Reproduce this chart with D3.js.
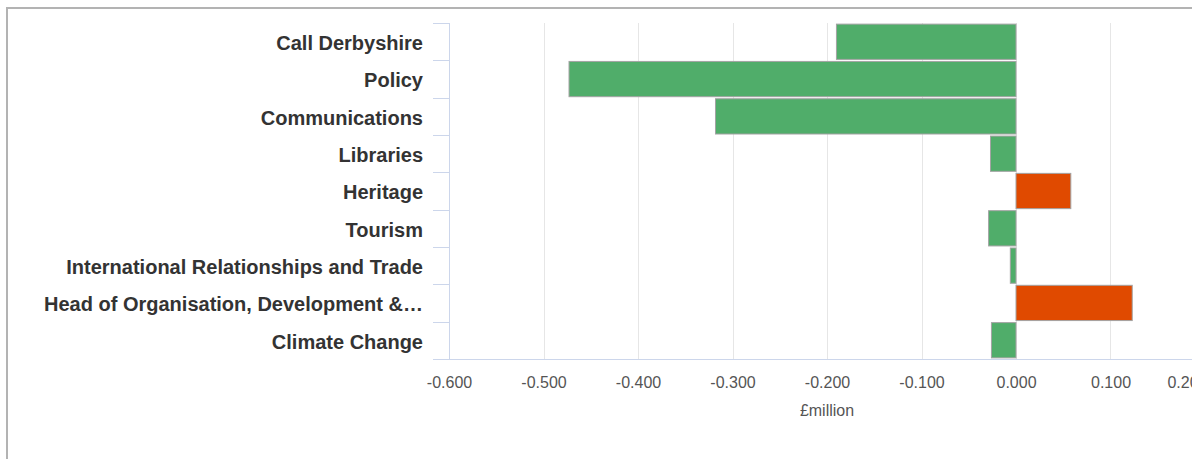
<!DOCTYPE html>
<html>
<head>
<meta charset="utf-8">
<script src="https://cdn.jsdelivr.net/npm/d3@7"></script>
<style>
  html, body { margin: 0; padding: 0; background: #fff; }
  svg { display: block; }
</style>
</head>
<body>
<svg id="chart" width="1200" height="459"></svg>
<script>
// Budget variance by service area (£million)
const categories = [
  "Call Derbyshire",
  "Policy",
  "Communications",
  "Libraries",
  "Heritage",
  "Tourism",
  "International Relationships and Trade",
  "Head of Organisation, Development &…",
  "Climate Change"
];
const variances = [-0.190, -0.473, -0.318, -0.027, 0.058, -0.029, -0.006, 0.123, -0.026];
const xTicks = [-0.6, -0.5, -0.4, -0.3, -0.2, -0.1, 0.0, 0.1, 0.2];
const xTitle = "£million";

const underspendColour = "#50ad6a";
const overspendColour = "#e04a00";
const font = "'Liberation Sans', Arial, sans-serif";

const svg = d3.select("#chart");

// Panel frame
svg.append("line").attr("x1", 6).attr("x2", 1192).attr("y1", 8).attr("y2", 8)
  .attr("stroke", "#b3b3b3").attr("stroke-width", 2);
svg.append("line").attr("x1", 7).attr("x2", 7).attr("y1", 7).attr("y2", 459)
  .attr("stroke", "#b3b3b3").attr("stroke-width", 2);

svg.append("defs").append("clipPath").attr("id", "panel")
  .append("rect").attr("x", 0).attr("y", 9).attr("width", 1192).attr("height", 450);

const root = svg.append("g").attr("clip-path", "url(#panel)");

const x = d3.scaleLinear().domain([-0.6, 0.2]).range([449, 1205]);
const y = d3.scaleBand().domain(categories).range([23, 359])
  .paddingInner(0.055).paddingOuter(0.03);

// Vertical grid lines
root.append("g").selectAll("line").data(xTicks).join("line")
  .attr("x1", d => Math.round(x(d)) + 0.5).attr("x2", d => Math.round(x(d)) + 0.5)
  .attr("y1", 23).attr("y2", 359)
  .attr("stroke", "#e6e6e6").attr("stroke-width", 1);

// Bars
root.append("g").selectAll("rect").data(categories).join("rect")
  .attr("x", (c, i) => x(Math.min(0, variances[i])))
  .attr("width", (c, i) => Math.abs(x(variances[i]) - x(0)))
  .attr("y", c => y(c))
  .attr("height", y.bandwidth())
  .attr("fill", (c, i) => variances[i] < 0 ? underspendColour : overspendColour)
  .attr("stroke", "#a3a3a3").attr("stroke-width", 1);

// Category axis
const yAxis = d3.axisLeft(y).tickSize(0).tickPadding(26);
const gy = root.append("g").attr("transform", "translate(449,0)").call(yAxis);
gy.select(".domain").attr("stroke", "#ccd6eb").attr("d", "M0.5,23V359");
gy.selectAll(".tick text")
  .attr("font-family", font)
  .attr("font-size", 20).attr("font-weight", "bold").attr("fill", "#333333")
  .attr("dy", "0.42em");
// Band boundary ticks
const edges = categories.map(c => y(c) - y.step() * y.paddingInner() / 2).concat([359]);
gy.append("g").selectAll("line").data(edges).join("line")
  .attr("x1", -16).attr("x2", 0)
  .attr("y1", d => Math.round(d) + 0.5).attr("y2", d => Math.round(d) + 0.5)
  .attr("stroke", "#ccd6eb");

// Value axis
const xAxis = d3.axisBottom(x).tickValues(xTicks).tickSize(0).tickPadding(18)
  .tickFormat(d => d3.format(".3f")(d).replace("\u2212", "-"));
const gx = root.append("g").attr("transform", "translate(0,359)").call(xAxis);
gx.select(".domain").attr("stroke", "#ccd6eb").attr("d", "M449,0.5H1205");
gx.selectAll(".tick text")
  .attr("font-family", font)
  .attr("font-size", 16).attr("fill", "#555555");
// The last label is pulled inside the chart edge
gx.selectAll(".tick text").filter(d => d === xTicks[xTicks.length - 1])
  .attr("text-anchor", "end").attr("x", 1207 - x(xTicks[xTicks.length - 1]));

root.append("text")
  .attr("x", (x.range()[0] + x.range()[1]) / 2).attr("y", 416)
  .attr("text-anchor", "middle")
  .attr("font-family", font)
  .attr("font-size", 16).attr("fill", "#555555")
  .text(xTitle);
</script>
</body>
</html>
